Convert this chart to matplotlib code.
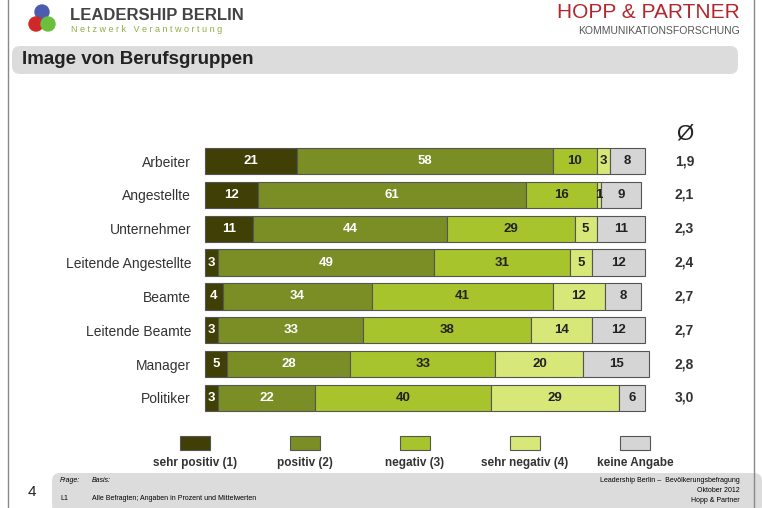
import numpy as np
import matplotlib.pyplot as plt
from matplotlib.patches import FancyBboxPatch, Rectangle, Circle

plt.rcParams['font.family'] = ['Liberation Sans', 'DejaVu Sans']

# Daten
gruppen = ['Arbeiter', 'Angestellte', 'Unternehmer', 'Leitende Angestellte',
           'Beamte', 'Leitende Beamte', 'Manager', 'Politiker']
sehr_positiv = [21, 12, 11, 3, 4, 3, 5, 3]
positiv = [58, 61, 44, 49, 34, 33, 28, 22]
negativ = [10, 16, 29, 31, 41, 38, 33, 40]
sehr_negativ = [3, 1, 5, 5, 12, 14, 20, 29]
keine_angabe = [8, 9, 11, 12, 8, 12, 15, 6]
mittelwerte = ['1,9', '2,1', '2,3', '2,4', '2,7', '2,7', '2,8', '3,0']

kategorien = ['sehr positiv (1)', 'positiv (2)', 'negativ (3)', 'sehr negativ (4)', 'keine Angabe']
serien = [sehr_positiv, positiv, negativ, sehr_negativ, keine_angabe]
farben = ['#3f3f06', '#7b8d25', '#a7c42c', '#d8e878', '#d5d5d5']
textfarben = ['white', 'white', '#222222', '#222222', '#222222']

W, H = 762, 508
fig = plt.figure(figsize=(W / 100, H / 100), dpi=100)

# Hintergrund in Pixelkoordinaten
bg = fig.add_axes([0, 0, 1, 1])
bg.set_xlim(0, W)
bg.set_ylim(H, 0)
bg.axis('off')
bg.plot([8, 8], [0, H], color='#888888', lw=1)
bg.plot([754, 754], [0, H], color='#888888', lw=1)
bg.add_patch(FancyBboxPatch((12, 46), 726, 28, boxstyle='round,pad=0,rounding_size=8',
                            fc='#dcdcdc', ec='none'))
bg.text(22, 60, 'Image von Berufsgruppen', fontsize=13.5, fontweight='bold', va='center', color='#222222')
bg.add_patch(FancyBboxPatch((52, 473), 710, 40, boxstyle='round,pad=0,rounding_size=8',
                            fc='#dcdcdc', ec='none'))

# Logos
bg.add_patch(Circle((42, 12), 7, color='#4a5bb0'))
bg.add_patch(Circle((36, 24), 7, color='#d02828'))
bg.add_patch(Circle((48, 24), 7, color='#6cbf3c'))
bg.text(70, 15, 'LEADERSHIP BERLIN', fontsize=12, fontweight='bold', color='#444444', va='center')
bg.text(71, 29, 'N e t z w e r k   V e r a n t w o r t u n g', fontsize=6.5, color='#8bb040', va='center')
bg.text(740, 12, 'HOPP & PARTNER', fontsize=15, color='#b3262e', ha='right', va='center')
bg.text(740, 31, 'KOMMUNIKATIONSFORSCHUNG', fontsize=7.5, color='#555555', ha='right', va='center')

# Fusszeile
bg.text(28, 492, '4', fontsize=11, va='center', color='#222222')
bg.text(60, 481, 'Frage:', fontsize=5, style='italic', va='center')
bg.text(92, 481, 'Basis:', fontsize=5, style='italic', va='center')
bg.text(60, 499, 'L1', fontsize=5, va='center')
bg.text(92, 499, 'Alle Befragten; Angaben in Prozent und Mittelwerten', fontsize=5, va='center')
bg.text(740, 481, 'Leadership Berlin \u2013  Bevölkerungsbefragung', fontsize=5, ha='right', va='center')
bg.text(740, 491, 'Oktober 2012', fontsize=5, ha='right', va='center')
bg.text(740, 501, 'Hopp & Partner', fontsize=5, ha='right', va='center')

# Legende
for i, (k, f) in enumerate(zip(kategorien, farben)):
    cx = 195 + i * 110
    bg.add_patch(Rectangle((cx - 15, 436), 30, 14, fc=f, ec='#555555', lw=0.8))
    bg.text(cx, 463, k, fontsize=8.5, fontweight='bold', ha='center', va='center', color='#333333')

# Balken
ax = fig.add_axes([205 / W, 1 - 418.3 / H, 440 / W, 277.6 / H])
y = np.arange(len(gruppen))
links = np.zeros(len(gruppen))
for s, f, tf in zip(serien, farben, textfarben):
    werte = np.array(s, dtype=float)
    ax.barh(y, werte, left=links, height=0.78, color=f, edgecolor='#555555', lw=0.8, clip_on=False)
    for yi, l, w in zip(y, links, werte):
        ax.text(l + w / 2, yi, str(int(w)), ha='center', va='center', fontsize=9.5,
                fontweight='bold', color=tf)
    links += werte
ax.set_xlim(0, 100)
ax.set_ylim(len(gruppen) - 0.4, -0.6)
ax.set_yticks(y)
ax.set_yticklabels(gruppen, fontsize=10, color='#333333')
ax.tick_params(axis='y', length=0, pad=10)
ax.set_xticks([])
for sp in ax.spines.values():
    sp.set_visible(False)
for yi, m in zip(y, mittelwerte):
    ax.text(109, yi, m, ha='center', va='center', fontsize=10, fontweight='bold',
            color='#333333', clip_on=False)
ax.text(109, -0.8, '\u00d8', ha='center', va='center', fontsize=16, color='#222222', clip_on=False)

fig.savefig('out.png', dpi=100)
